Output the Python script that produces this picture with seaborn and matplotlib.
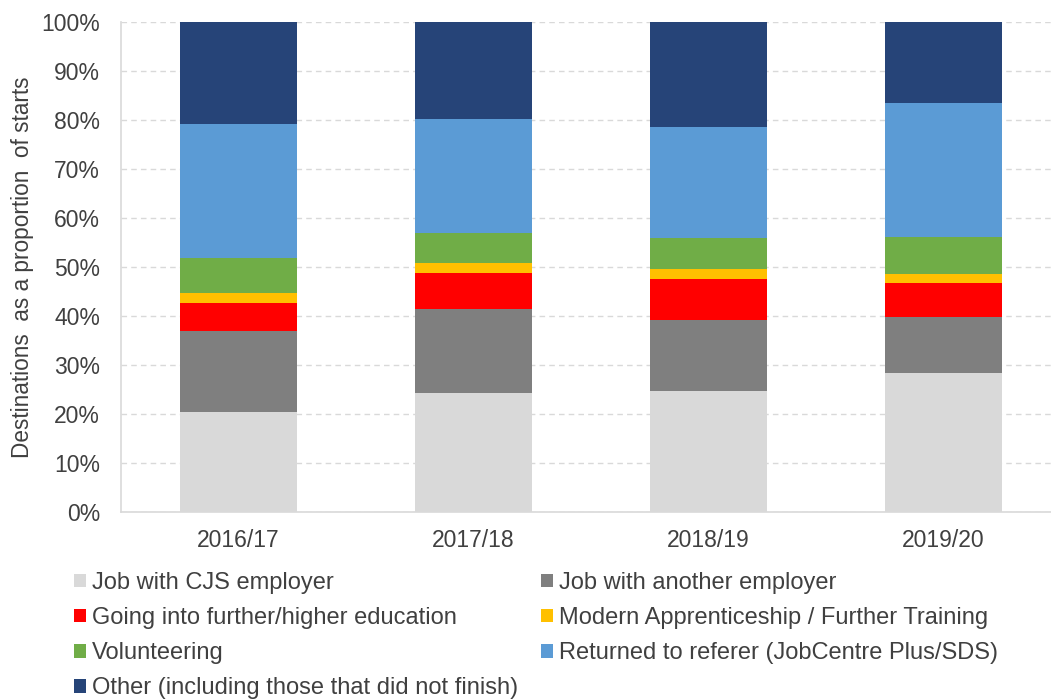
import numpy as np
import pandas as pd
import seaborn as sns
import matplotlib.pyplot as plt
from matplotlib.patches import Patch
from matplotlib.ticker import FuncFormatter

years = ["2016/17", "2017/18", "2018/19", "2019/20"]

destinations = [
    "Job with CJS employer",
    "Job with another employer",
    "Going into further/higher education",
    "Modern Apprenticeship / Further Training",
    "Volunteering",
    "Returned to referer (JobCentre Plus/SDS)",
    "Other (including those that did not finish)",
]

# percentages of starts
job_cjs = [20.5, 24.3, 24.6, 28.4]
job_other = [16.5, 17.1, 14.5, 11.3]
education = [5.6, 7.4, 8.5, 7.0]
apprenticeship = [2.1, 2.1, 2.0, 1.9]
volunteering = [7.1, 6.0, 6.4, 7.5]
returned = [27.4, 23.3, 22.6, 27.3]
other = [20.8, 19.8, 21.4, 16.6]

colors = ["#d9d9d9", "#7f7f7f", "#ff0000", "#ffc000", "#70ad47", "#5b9bd5", "#264478"]

series = [job_cjs, job_other, education, apprenticeship, volunteering, returned, other]

sns.set_theme(style="white")
plt.rcParams["font.family"] = ["Liberation Sans", "DejaVu Sans"]
text_col = "#404040"

fig = plt.figure(figsize=(10.51, 6.99), dpi=100)
ax = fig.add_axes([121 / 1051, 1 - 512 / 699, 940 / 1051, 490 / 699])

bottom = np.zeros(len(years))
for name, vals, col in zip(destinations, series, colors):
    sns.barplot(x=years, y=vals, bottom=bottom.copy(), color=col, width=0.5,
                saturation=1, errorbar=None, ax=ax, linewidth=0, zorder=3)
    bottom += np.array(vals)

ax.set_xlim(-0.5, 3.5)
ax.set_ylim(0, 100)
ax.set_yticks(range(0, 101, 10))
ax.yaxis.set_major_formatter(FuncFormatter(lambda v, p: f"{int(v)}%"))
ax.grid(axis="y", color="#d9d9d9", linestyle=(0, (4, 3)), linewidth=1, zorder=0)
ax.set_axisbelow(True)
for s in ["top", "right"]:
    ax.spines[s].set_visible(False)
for s in ["left", "bottom"]:
    ax.spines[s].set_color("#d9d9d9")
    ax.spines[s].set_linewidth(1.2)
ax.tick_params(axis="both", length=0, labelsize=16.5, colors=text_col)
ax.tick_params(axis="y", pad=15)
ax.tick_params(axis="x", pad=12)
ax.set_xlabel("")
ax.set_ylabel("Destinations  as a proportion  of starts", fontsize=16.3,
              color=text_col, labelpad=5)

# legend is filled row by row in the original, matplotlib fills columns
order = [0, 2, 4, 6, 1, 3, 5]
handles = [Patch(facecolor=colors[i], edgecolor="none") for i in order]
labels = [destinations[i] for i in order]
fig.legend(handles, labels, loc="upper left", bbox_to_anchor=(74 / 1051, 0.182),
           ncol=2, frameon=False, fontsize=17, labelcolor=text_col,
           handlelength=0.5, handleheight=0.5, handletextpad=0.25,
           columnspacing=1.0, labelspacing=0.56, borderaxespad=0, borderpad=0)

fig.savefig("out.png", dpi=100)
